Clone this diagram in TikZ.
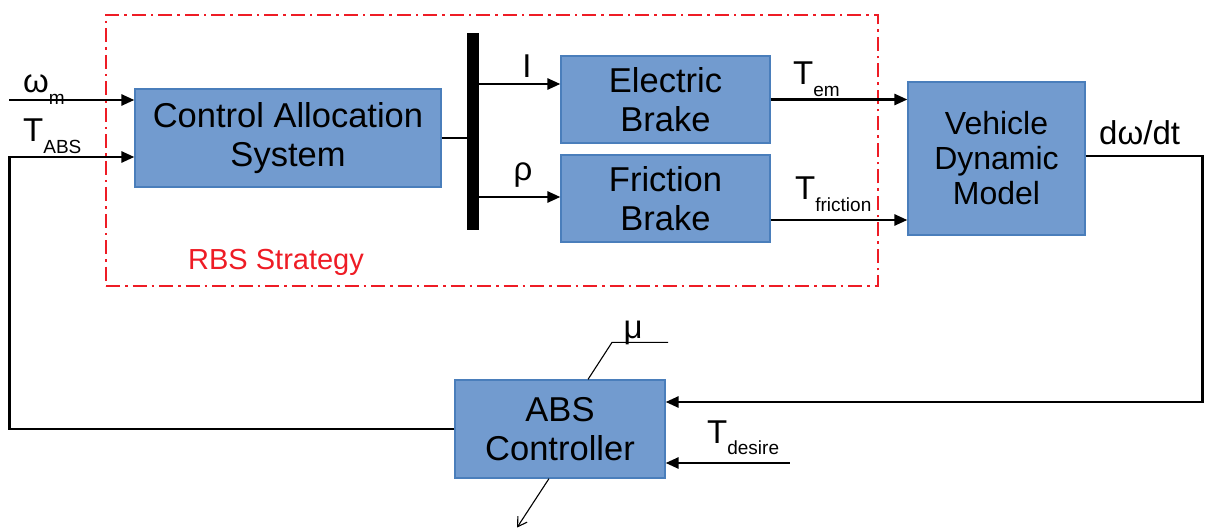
\documentclass[tikz,border=0pt]{standalone}
\usepackage{fontspec}
\setmainfont{Liberation Sans}
\usetikzlibrary{arrows.meta}
\definecolor{bfill}{HTML}{729BCF}
\definecolor{bdraw}{HTML}{4A7EBB}
\definecolor{rbsred}{HTML}{EE1C25}
\newcommand{\lsub}[1]{\raisebox{-0.36em}{\fontsize{19}{19}\selectfont #1}}
\begin{document}
\begin{tikzpicture}[x=1pt,y=-1pt,
  blk/.style={draw=bdraw,line width=1.2pt,fill=bfill,inner sep=0pt,align=center,font=\fontsize{34.5}{39}\selectfont},
  sig/.style={line width=2.6pt,-{Triangle[length=13pt,width=11pt]}},
  wire/.style={line width=2.6pt},
  thinline/.style={line width=1.1pt},
  lbl/.style={inner sep=0pt,anchor=base west,font=\fontsize{33}{33}\selectfont},
  dashbox/.style={draw=rbsred,line width=2.5pt,dash pattern=on 14pt off 5pt on 2.5pt off 5pt,inner sep=0pt}
]
\useasboundingbox (0,0) rectangle (1205,529);
% RBS box
\node[dashbox,minimum width=772,minimum height=271] (rbs) at (492,150.5) {};
\node[inner sep=0pt,anchor=base west,text=rbsred,font=\fontsize{29}{29}\selectfont] (rbslbl) at (188,270) {RBS Strategy};
% blocks
\node[blk,minimum width=306,minimum height=98] (cas) at (288,138) {Control Allocation\\System};
\node[blk,minimum width=209,minimum height=87] (eb) at (665.5,99.5) {Electric\\Brake};
\node[blk,minimum width=209,minimum height=87] (fb) at (665.5,198.5) {Friction\\Brake};
\node[blk,minimum width=177,minimum height=153,font=\fontsize{32}{35}\selectfont] (vdm) at (996.5,158.5) {Vehicle\\Dynamic\\Model};
\node[blk,minimum width=210,minimum height=98] (abs) at (560,429) {ABS\\Controller};
\node[fill=black,minimum width=12,minimum height=197,inner sep=0pt] (bar) at (473,131.5) {};
% coordinates
\coordinate (casIn1) at ([yshift=38pt]cas.west);
\coordinate (casIn2) at ([yshift=-19pt]cas.west);
\coordinate (wm) at ([xshift=-125pt]casIn1);
\coordinate (eIn) at ([yshift=15.5pt]eb.west);
\coordinate (fIn) at ([yshift=1.5pt]fb.west);
\coordinate (fOut) at ([yshift=-21.5pt]fb.east);
\coordinate (absIn1) at ([yshift=27pt]abs.east);
\coordinate (absIn2) at ([yshift=-34pt]abs.east);
\coordinate (tdes) at ([xshift=124pt]absIn2);
\coordinate (muA) at ([xshift=28pt]abs.north);
\coordinate (outA) at ([xshift=-11pt]abs.south);
% connectors
\draw[sig] (wm) -- (casIn1);
\draw[sig] (abs.west) -- ++(-445,0) |- (casIn2);
\draw[wire] (cas.east) -- (bar.west |- cas.east);
\draw[sig] (bar.east |- eIn) -- (eIn);
\draw[sig] (bar.east |- fIn) -- (fIn);
\draw[sig] (eb.east) -- (vdm.west |- eb.east);
\draw[sig] (fOut) -- (vdm.west |- fOut);
\draw[sig] ([yshift=2.5pt]vdm.east) -- ++(117,0) |- (absIn1);
\draw[sig] (tdes) -- (absIn2);
\draw[thinline] (muA) -- ++(24,-37) -- ++(56,0);
\draw[thinline,-{Straight Barb[length=9pt,width=11pt]}] (outA) -- ++(-32,49);
% labels
\node[lbl] (lwm) at (23,93) {ω\lsub{m}};
\node[lbl] (ltabs) at (23,142) {T\lsub{ABS}};
\node[lbl,anchor=base] (li) at (527,78) {I};
\node[lbl,anchor=base] (lrho) at (523,181) {ρ};
\node[lbl] (ltem) at (793,85) {T\lsub{em}};
\node[lbl] (ltfr) at (795,200) {T\lsub{friction}};
\node[lbl] (ldw) at (1099,145) {dω/dt};
\node[lbl,anchor=base] (lmu) at (633,338) {μ};
\node[lbl] (ltdes) at (707,443) {T\lsub{desire}};
\end{tikzpicture}
\end{document}
